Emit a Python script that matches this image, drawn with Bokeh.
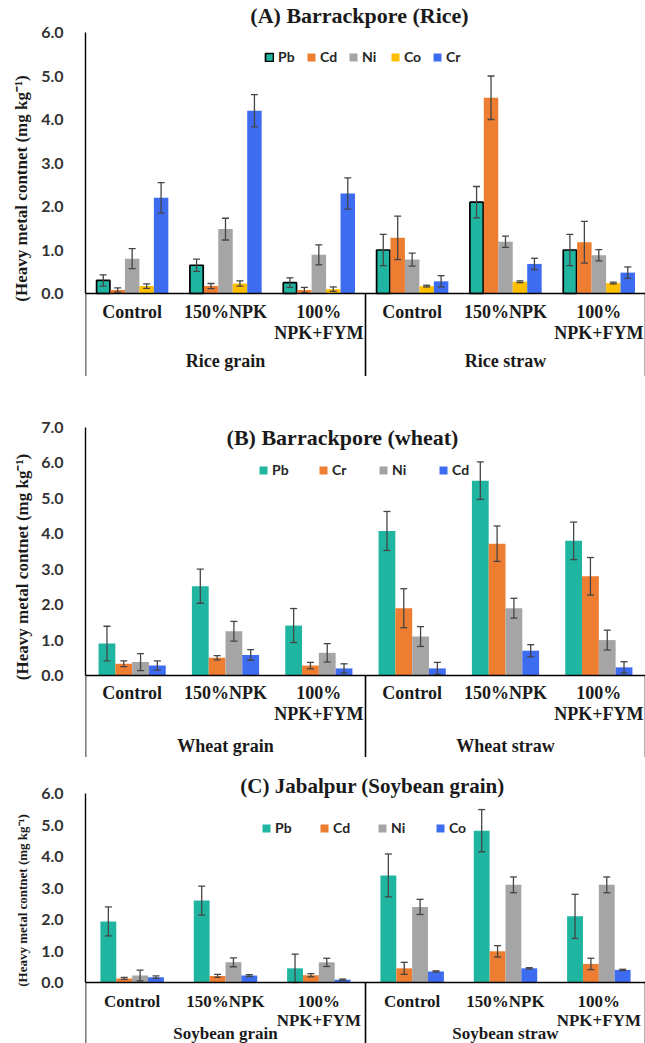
from bokeh.plotting import figure
from bokeh.models import (ColumnDataSource, FactorRange, Range1d, Label, Legend,
                          LegendItem, FixedTicker, NumeralTickFormatter, Span, Title)
from bokeh.transform import dodge
from bokeh.layouts import column
from bokeh.core.properties import value
from bokeh.embed import file_html
from bokeh.resources import INLINE

# ---------------- data ----------------
treatments = ["Control", "150%NPK", "100%\nNPK+FYM"]

# (A) Barrackpore, rice
rice_groups = ["Rice grain", "Rice straw"]
rice_metals = ["Pb", "Cd", "Ni", "Co", "Cr"]
rice_pb = [0.30, 0.65, 0.25, 1.00, 2.10, 1.00]
rice_pb_err = [0.13, 0.14, 0.11, 0.36, 0.36, 0.36]
rice_cd = [0.08, 0.17, 0.08, 1.28, 4.50, 1.18]
rice_cd_err = [0.05, 0.06, 0.06, 0.50, 0.50, 0.48]
rice_ni = [0.80, 1.48, 0.89, 0.78, 1.19, 0.88]
rice_ni_err = [0.23, 0.25, 0.23, 0.15, 0.13, 0.13]
rice_co = [0.17, 0.23, 0.10, 0.17, 0.27, 0.24]
rice_co_err = [0.05, 0.06, 0.05, 0.02, 0.02, 0.02]
rice_cr = [2.20, 4.20, 2.30, 0.28, 0.68, 0.48]
rice_cr_err = [0.35, 0.37, 0.36, 0.13, 0.13, 0.13]

# (B) Barrackpore, wheat
wheat_groups = ["Wheat grain", "Wheat straw"]
wheat_metals = ["Pb", "Cr", "Ni", "Cd"]
wheat_pb = [0.90, 2.52, 1.41, 4.08, 5.50, 3.80]
wheat_pb_err = [0.49, 0.48, 0.48, 0.55, 0.53, 0.53]
wheat_cr = [0.33, 0.50, 0.28, 1.90, 3.72, 2.80]
wheat_cr_err = [0.08, 0.06, 0.09, 0.55, 0.50, 0.53]
wheat_ni = [0.38, 1.25, 0.64, 1.10, 1.90, 1.00]
wheat_ni_err = [0.24, 0.28, 0.26, 0.28, 0.28, 0.28]
wheat_cd = [0.28, 0.58, 0.20, 0.20, 0.70, 0.23]
wheat_cd_err = [0.13, 0.15, 0.13, 0.17, 0.17, 0.16]

# (C) Jabalpur, soybean
soy_groups = ["Soybean grain", "Soybean straw"]
soy_metals = ["Pb", "Cd", "Ni", "Co"]
soy_pb = [1.94, 2.60, 0.45, 3.40, 4.82, 2.10]
soy_pb_err = [0.46, 0.46, 0.45, 0.68, 0.67, 0.70]
soy_cd = [0.13, 0.21, 0.23, 0.45, 0.99, 0.59]
soy_cd_err = [0.03, 0.05, 0.05, 0.19, 0.18, 0.18]
soy_ni = [0.22, 0.64, 0.64, 2.40, 3.10, 3.10]
soy_ni_err = [0.17, 0.14, 0.13, 0.24, 0.25, 0.25]
soy_co = [0.17, 0.22, 0.09, 0.35, 0.45, 0.40]
soy_co_err = [0.04, 0.03, 0.02, 0.02, 0.02, 0.02]

TEAL, ORANGE, GREY, YELLOW, BLUE = "#1fb5a0", "#ed7d31", "#a5a5a5", "#ffc000", "#3d6cf0"
SERIF = "Liberation Serif"
SANS = "Lato"
INK = "#1a1a1a"
YLABEL = "(Heavy metal contnet (mg kg\u207b\u00b9)"


def panel(title, groups, metals, series, errors, colors, ymax, bar_w,
          left, top_px, plot_px, below_px, title_x, title_y, title_size,
          legend_y, legend_spacing, cat_size, cat_dy, group_dy, ylab_size,
          ylab_shift, ylab_standoff, pb_outline=False, width=645):
    factors = [(g, t) for g in groups for t in treatments]
    unit = ymax / plot_px                      # data units per pixel
    frame_h = top_px + plot_px + below_px
    frame_w = 560
    p = figure(x_range=FactorRange(*factors, range_padding=0, group_padding=0,
                                   factor_padding=0),
               y_range=Range1d(-below_px * unit, ymax + top_px * unit),
               frame_width=frame_w, frame_height=frame_h,
               min_border_left=left, min_border_right=width - frame_w - left,
               min_border_top=0, min_border_bottom=0,
               toolbar_location=None, output_backend="svg",
               background_fill_color="white", border_fill_color="white")
    p.outline_line_color = None
    p.xgrid.grid_line_color = None
    p.ygrid.grid_line_color = None
    p.xaxis.visible = False

    # bars with error bars
    n = len(metals)
    items = []
    for i, (m, vals, errs, col) in enumerate(zip(metals, series, errors, colors)):
        off = (i - (n - 1) / 2) * bar_w
        src = ColumnDataSource(dict(
            x=factors, top=vals,
            upper=[v + e for v, e in zip(vals, errs)],
            lower=[max(v - e, 0) for v, e in zip(vals, errs)]))
        xs = dodge("x", off, range=p.x_range)
        outline = "black" if (pb_outline and i == 0) else None
        r = p.vbar(x=xs, top="top", width=bar_w * (0.92 if outline else 1.0),
                   source=src, fill_color=col, line_color=outline, line_width=1.7)
        p.segment(x0=xs, y0="lower", x1=xs, y1="upper", source=src,
                  line_color="#454545", line_width=1.3)
        p.scatter(x=xs, y="upper", marker="dash", size=7, source=src,
                  line_color="#454545", line_width=1.3)
        p.scatter(x=xs, y="lower", marker="dash", size=7, source=src,
                  line_color="#454545", line_width=1.3)
        items.append(LegendItem(label=m, renderers=[r]))

    # category axis drawn as a table below the baseline
    p.add_layout(Span(location=0, dimension="width", line_color="black",
                      line_width=1.4))
    firsts = ColumnDataSource(dict(x=[(g, treatments[0]) for g in groups]))
    lasts = ColumnDataSource(dict(x=[(groups[-1], treatments[-1])]))
    bottom = p.y_range.start
    p.segment(x0=dodge("x", -0.5, range=p.x_range), y0=0,
              x1=dodge("x", -0.5, range=p.x_range), y1=bottom,
              source=firsts, line_color="black", line_width=1.6)
    p.segment(x0=dodge("x", 0.5, range=p.x_range), y0=0,
              x1=dodge("x", 0.5, range=p.x_range), y1=bottom,
              source=lasts, line_color="black", line_width=1.6)

    cats = ColumnDataSource(dict(x=factors, label=[t for g in groups for t in treatments]))
    p.text(x="x", y=0, text="label", source=cats, y_offset=cat_dy,
           text_align="center", text_baseline="top", text_font=value(SERIF),
           text_font_style="bold", text_font_size=cat_size, text_color=INK,
           text_line_height=1.05)
    grp = ColumnDataSource(dict(x=[(g, treatments[1]) for g in groups], label=groups))
    p.text(x="x", y=0, text="label", source=grp, y_offset=group_dy,
           text_align="center", text_baseline="middle", text_font=value(SERIF),
           text_font_style="bold", text_font_size=cat_size, text_color=INK)

    legend = Legend(items=items, orientation="horizontal", location="top_center",
                    background_fill_alpha=0, border_line_color=None,
                    label_text_font=SANS, label_text_font_style="bold",
                    label_text_font_size="14px", label_text_color="#262626",
                    glyph_width=10, glyph_height=10, label_standoff=4,
                    spacing=legend_spacing, padding=2, margin=legend_y - 9,
                    label_height=14)
    p.add_layout(legend)

    p.add_layout(Label(x=title_x - left, x_units="screen", y=frame_h - title_y,
                       y_units="screen", text=title, text_align="center",
                       text_baseline="middle", text_font=SERIF,
                       text_font_style="bold", text_font_size=title_size,
                       text_color=INK))

    ya = p.yaxis[0]
    ya.bounds = (0, ymax)
    ya.ticker = FixedTicker(ticks=list(range(0, int(ymax) + 1)))
    ya.formatter = NumeralTickFormatter(format="0.0")
    ya.major_tick_line_color = None
    ya.minor_tick_line_color = None
    ya.axis_line_color = "black"
    ya.axis_line_width = 1.4
    ya.major_label_text_font = SANS
    ya.major_label_text_font_style = "bold"
    ya.major_label_text_font_size = "16px"
    ya.major_label_text_color = "#333333"
    ya.major_label_standoff = 16

    p.add_layout(Title(text=YLABEL, align="center", offset=ylab_shift,
                       standoff=ylab_standoff, text_font=SERIF,
                       text_font_style="bold", text_font_size=ylab_size,
                       text_color=INK), "left")
    return p


pA = panel("(A) Barrackpore (Rice)", rice_groups, rice_metals,
           [rice_pb, rice_cd, rice_ni, rice_co, rice_cr],
           [rice_pb_err, rice_cd_err, rice_ni_err, rice_co_err, rice_cr_err],
           [TEAL, ORANGE, GREY, YELLOW, BLUE], 6, 0.155,
           left=83, top_px=32, plot_px=261, below_px=83,
           title_x=357, title_y=15, title_size="22px",
           legend_y=57, legend_spacing=8, cat_size="18px", cat_dy=8, group_dy=67,
           ylab_size="17px", ylab_shift=13, ylab_standoff=16, pb_outline=True)

pB = panel("(B) Barrackpore (wheat)", wheat_groups, wheat_metals,
           [wheat_pb, wheat_cr, wheat_ni, wheat_cd],
           [wheat_pb_err, wheat_cr_err, wheat_ni_err, wheat_cd_err],
           [TEAL, ORANGE, GREY, BLUE], 7, 0.18,
           left=80, top_px=51, plot_px=248, below_px=82,
           title_x=337, title_y=61, title_size="22px",
           legend_y=94, legend_spacing=26, cat_size="18px", cat_dy=7, group_dy=70,
           ylab_size="17px", ylab_shift=12, ylab_standoff=14)

pC = panel("(C) Jabalpur (Soybean grain)", soy_groups, soy_metals,
           [soy_pb, soy_cd, soy_ni, soy_co],
           [soy_pb_err, soy_cd_err, soy_ni_err, soy_co_err],
           [TEAL, ORANGE, GREY, BLUE], 6, 0.17,
           left=85, top_px=36, plot_px=189, below_px=61,
           title_x=372, title_y=28, title_size="21px",
           legend_y=71, legend_spacing=24, cat_size="17px", cat_dy=9, group_dy=51,
           ylab_size="13px", ylab_shift=10, ylab_standoff=18)

layout = column(pA, pB, pC, spacing=0)
open("out.html", "w").write(file_html(layout, INLINE))
